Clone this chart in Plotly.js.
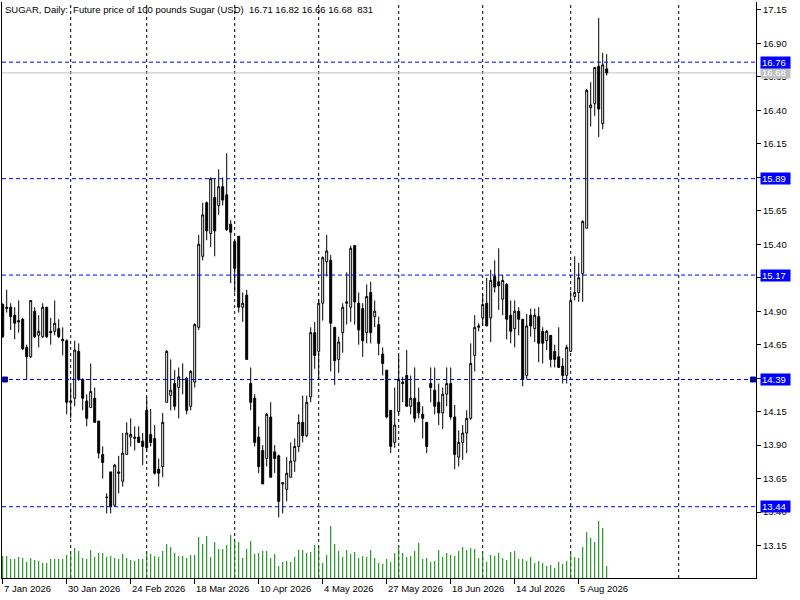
<!DOCTYPE html>
<html>
<head>
<meta charset="utf-8">
<script src="https://cdn.plot.ly/plotly-3.0.1.min.js"></script>
<style>html,body{margin:0;padding:0;background:#fff;}#chart{width:800px;height:600px;}</style>
</head>
<body>
<div id="chart"></div>
<script>
// ---- DATA ----
const symbol = "SUGAR";
const description = "Future price of 100 pounds Sugar (USD)";

const opens = [
14.95,14.92,14.93,14.87,14.83,14.84,14.63,14.56,14.90,14.72,
14.71,14.93,14.75,14.75,14.77,14.69,14.68,14.22,14.25,14.60,
14.39,14.23,14.18,14.25,14.08,13.83,13.51,13.70,13.45,13.70,
13.63,13.83,13.96,13.95,13.96,13.93,14.16,13.98,13.95,13.72,
13.74,14.22,14.27,14.36,14.33,14.39,14.40,14.19,14.37,14.78,
15.31,15.71,15.48,15.75,15.69,15.83,15.77,15.55,15.42,15.46,
14.93,15.02,14.36,14.25,13.96,13.86,13.80,14.11,13.85,13.82,
13.61,13.57,13.66,13.78,13.89,14.07,13.97,14.26,14.74,14.60,
14.96,15.27,15.28,14.78,14.54,14.74,14.97,14.93,15.39,14.96,
14.92,14.74,15.04,14.86,14.80,14.58,14.46,14.16,13.92,14.15,
14.37,14.42,14.19,14.25,14.22,14.13,14.07,14.36,14.31,14.22,
14.14,14.28,14.36,14.11,13.81,13.92,13.99,14.10,14.57,14.78,
14.85,14.96,14.85,15.16,15.12,14.99,15.10,14.87,14.77,14.90,
14.84,14.42,14.87,14.77,14.86,14.75,14.68,14.72,14.60,14.56,
14.49,14.42,14.60,15.01,15.04,15.18,15.52,16.42,16.45,16.73,
16.30,16.71];
const highs = [
14.96,15.06,14.96,14.93,14.98,14.85,14.65,14.98,14.93,14.87,
14.96,14.93,14.85,14.98,14.84,14.78,14.69,14.34,14.68,14.66,
14.40,14.28,14.51,14.33,14.08,13.89,13.54,13.70,13.76,13.82,
13.99,14.07,14.10,14.04,14.04,13.99,14.26,14.17,14.05,13.80,
14.14,14.61,14.54,14.46,14.48,14.51,14.41,14.46,14.81,15.47,
15.71,15.72,15.90,15.89,15.96,15.90,16.08,15.58,15.43,15.46,
15.04,15.06,14.48,14.28,14.04,13.90,14.14,14.22,13.90,13.83,
13.62,13.81,13.92,13.95,14.13,14.27,14.27,14.78,14.82,14.99,
15.31,15.47,15.32,14.78,14.71,14.96,15.19,15.39,15.39,15.04,
14.96,15.10,15.12,14.98,14.86,14.63,14.46,14.16,14.33,14.57,
14.41,14.61,14.42,14.48,14.33,14.19,14.07,14.48,14.48,14.36,
14.33,14.48,14.48,14.20,14.01,14.05,14.16,14.66,14.87,14.81,
15.03,15.15,15.21,15.28,15.37,15.17,15.11,14.98,14.98,14.93,
14.84,14.88,14.92,14.92,14.93,14.78,14.76,14.72,14.65,14.78,
14.55,14.65,15.05,15.31,15.26,15.58,16.56,16.61,16.72,17.09,
16.83,16.82];
const lows = [
14.70,14.89,14.76,14.69,14.74,14.61,14.39,14.55,14.70,14.63,
14.70,14.70,14.65,14.72,14.70,14.57,14.13,14.10,14.19,14.38,
14.16,14.04,14.18,14.07,13.80,13.65,13.39,13.39,13.44,13.54,
13.59,13.83,13.89,13.86,13.92,13.75,13.85,13.89,13.68,13.59,
13.66,14.22,14.16,14.16,14.10,14.28,14.13,14.16,14.33,14.76,
15.28,15.43,15.38,15.31,15.62,15.69,15.50,15.11,15.04,14.89,
14.82,14.54,14.16,13.89,13.69,13.61,13.74,13.66,13.69,13.36,
13.39,13.48,13.66,13.70,13.85,13.92,13.96,14.22,14.47,14.39,
14.83,15.16,14.45,14.35,14.44,14.59,14.80,14.82,14.80,14.65,
14.56,14.66,14.66,14.78,14.57,14.42,14.10,13.84,13.88,14.13,
14.22,14.19,14.13,14.07,14.10,13.95,13.84,14.22,14.13,14.05,
14.02,14.19,14.09,13.72,13.74,13.79,13.84,14.09,14.45,14.75,
14.79,14.79,14.67,15.04,14.91,14.87,14.69,14.66,14.63,14.72,
14.34,14.39,14.71,14.67,14.52,14.51,14.61,14.48,14.48,14.48,
14.36,14.36,14.60,14.98,14.97,14.97,15.52,16.28,16.36,16.20,
16.26,16.66];
const closes = [
14.71,14.93,14.86,14.81,14.82,14.62,14.56,14.98,14.71,14.75,
14.93,14.71,14.74,14.81,14.71,14.68,14.22,14.23,14.61,14.39,
14.25,14.10,14.30,14.07,13.84,13.77,13.51,13.44,13.75,13.69,
13.84,13.99,13.98,13.96,13.92,13.89,13.88,13.92,13.69,13.69,
14.07,14.60,14.31,14.19,14.41,14.39,14.16,14.45,14.80,15.40,
15.62,15.50,15.89,15.50,15.83,15.73,15.51,15.49,15.22,14.93,
14.96,14.54,14.22,13.92,13.74,13.61,14.13,13.66,13.80,13.48,
13.62,13.69,13.78,13.89,14.07,13.97,14.22,14.74,14.57,14.96,
15.30,15.35,14.81,14.53,14.67,14.93,14.96,15.37,14.97,14.76,
14.68,15.01,14.74,14.90,14.66,14.51,14.11,13.89,14.05,14.39,
14.36,14.19,14.25,14.10,14.14,14.10,13.89,14.33,14.19,14.14,
14.28,14.36,14.11,13.83,13.92,13.99,14.10,14.51,14.78,14.79,
14.95,14.79,15.13,15.08,15.09,15.13,14.84,14.75,14.90,14.84,
14.39,14.79,14.79,14.87,14.66,14.66,14.75,14.54,14.54,14.48,
14.42,14.63,14.98,15.04,15.15,15.57,16.55,16.44,16.72,16.41,
16.74,16.68];
const volumes = [
1524,1525,1317,1317,1455,1386,1109,1386,1247,1178,
1040,1040,1317,1317,1317,1317,1594,1733,2079,1871,
1386,1317,1940,1455,1733,1733,1455,1525,1386,1317,
1663,1386,1247,1178,1317,1317,1733,1663,1525,1455,
1871,2356,2148,1733,1525,1525,1386,1594,1594,2841,
2356,2911,1455,2495,2010,2010,2287,2980,2564,2495,
1386,2010,2564,1663,1733,1871,1871,1386,1663,832,
1109,1178,1109,1455,1940,1940,1733,1802,2287,2148,
1040,1594,3604,2356,1871,1455,1940,1663,1802,1386,
1525,1455,1940,1386,1040,970,1317,1109,1733,2218,
1733,1455,1525,1871,2426,1317,1386,1109,1178,1940,
1455,1733,1594,1525,1871,2148,1940,2079,2010,1386,
1686,1109,1594,1525,1733,1386,1247,1802,1871,1317,
1317,1178,1455,1040,1178,1040,832,901,693,1109,
970,1178,1733,1455,1386,2148,3188,2772,2495,3950,
3465,831];

const tickIdx = [0,16,32,48,64,80,96,112,128,144];
const tickLabels = ["7 Jan 2026","30 Jan 2026","24 Feb 2026","18 Mar 2026","10 Apr 2026",
                    "4 May 2026","27 May 2026","18 Jun 2026","14 Jul 2026","5 Aug 2026"];
const monthGridIdx = [17,36,58,79,99,120,142,169];
const levels = [16.76, 15.89, 15.17, 14.39, 13.44];
const selectedLevel = 14.39;

// ---- BUILD ----
const n = opens.length;
const xs = opens.map((_, i) => i);
const last = n - 1;
const bid = closes[last];
const FONT = "Liberation Sans, Arial, sans-serif";
const X_RANGE = [-0.175, 188.325];
const Y_RANGE = [12.9075, 17.2095];

const candles = {
  type: 'candlestick', x: xs, open: opens, high: highs, low: lows, close: closes,
  increasing: {line: {color: '#000000', width: 1}, fillcolor: '#ffffff'},
  decreasing: {line: {color: '#000000', width: 1}, fillcolor: '#000000'},
  whiskerwidth: 0, hoverinfo: 'none', showlegend: false
};
const vol = {
  type: 'bar', x: xs, y: volumes, yaxis: 'y2', width: 0.25,
  marker: {color: '#008000', line: {width: 0}}, hoverinfo: 'none', showlegend: false
};
// selection handles of the selected horizontal level (at both ends of the chart)
const handles = {
  type: 'scatter', mode: 'markers',
  x: [X_RANGE[0] + 0.75, X_RANGE[1] - 0.75], y: [selectedLevel, selectedLevel],
  marker: {symbol: 'square', size: 5, color: '#000000', line: {color: '#0000ff', width: 1}},
  cliponaxis: false, hoverinfo: 'none', showlegend: false
};

const shapes = [];
monthGridIdx.forEach(g => shapes.push({
  type: 'line', xref: 'x', yref: 'paper', x0: g, x1: g, y0: 0, y1: 1,
  line: {color: '#000000', width: 1, dash: '3px,3px'}, layer: 'below'
}));
shapes.push({
  type: 'line', xref: 'paper', yref: 'y', x0: 0, x1: 1, y0: bid, y1: bid,
  line: {color: '#c0c0c0', width: 1}, layer: 'below'
});
levels.forEach(l => shapes.push({
  type: 'line', xref: 'paper', yref: 'y', x0: 0, x1: 1, y0: l, y1: l,
  line: {color: '#0000ff', width: 1, dash: '4px,3px'}, layer: 'above'
}));

const annotations = [];
const header = `${symbol}, Daily:  ${description}  ${opens[last].toFixed(2)} ${highs[last].toFixed(2)} ${lows[last].toFixed(2)} ${closes[last].toFixed(2)}  ${volumes[last]}`;
annotations.push({
  xref: 'paper', yref: 'paper', x: 0, y: 1, xanchor: 'left', yanchor: 'top', xshift: 1, yshift: 0,
  text: header, showarrow: false, font: {family: FONT, size: 9.5, color: '#000000'}
});
tickIdx.forEach((t, k) => annotations.push({
  xref: 'x', yref: 'paper', x: t, y: 0, xanchor: 'left', yanchor: 'top', yshift: -3, xshift: -1,
  text: tickLabels[k], showarrow: false, font: {family: FONT, size: 9.5, color: '#000000'}
}));
const priceLabel = (v, bg) => ({
  xref: 'paper', yref: 'y', x: 1, y: v, xanchor: 'left', yanchor: 'middle', xshift: 4,
  text: v.toFixed(2), showarrow: false, bgcolor: bg, borderpad: 1, width: 27, height: 9, align: 'left',
  font: {family: FONT, size: 9.5, color: '#ffffff'}
});
annotations.push(priceLabel(bid, '#c0c0c0'));
levels.forEach(l => annotations.push(priceLabel(l, '#0000ff')));

const volMax = Math.max(...volumes);
const layout = {
  width: 800, height: 600,
  margin: {l: 2, r: 44, t: 2, b: 22, pad: 0},
  paper_bgcolor: '#ffffff', plot_bgcolor: '#ffffff',
  showlegend: false, dragmode: false,
  xaxis: {
    range: X_RANGE, showgrid: false, zeroline: false,
    showline: true, linecolor: '#000000', linewidth: 1,
    tickmode: 'array', tickvals: tickIdx, ticktext: tickIdx.map(() => ''),
    ticks: 'outside', ticklen: 5, tickcolor: '#000000', tickwidth: 1,
    rangeslider: {visible: false}, fixedrange: true
  },
  yaxis: {
    side: 'right', range: Y_RANGE, tick0: 13.15, dtick: 0.25, tickformat: '.2f',
    ticks: 'outside', ticklen: 4, tickcolor: '#000000', tickwidth: 1,
    showline: true, linecolor: '#000000', linewidth: 1,
    showgrid: false, zeroline: false, fixedrange: true,
    tickfont: {family: FONT, size: 9.5, color: '#000000'}
  },
  yaxis2: {
    overlaying: 'y', side: 'left', range: [0, volMax * 10.1],
    showline: true, linecolor: '#000000', linewidth: 1,
    showticklabels: false, ticks: '', showgrid: false, zeroline: false, fixedrange: true
  },
  shapes: shapes,
  annotations: annotations
};

Plotly.newPlot('chart', [vol, candles, handles], layout, {staticPlot: true, displayModeBar: false});
</script>
</body>
</html>
